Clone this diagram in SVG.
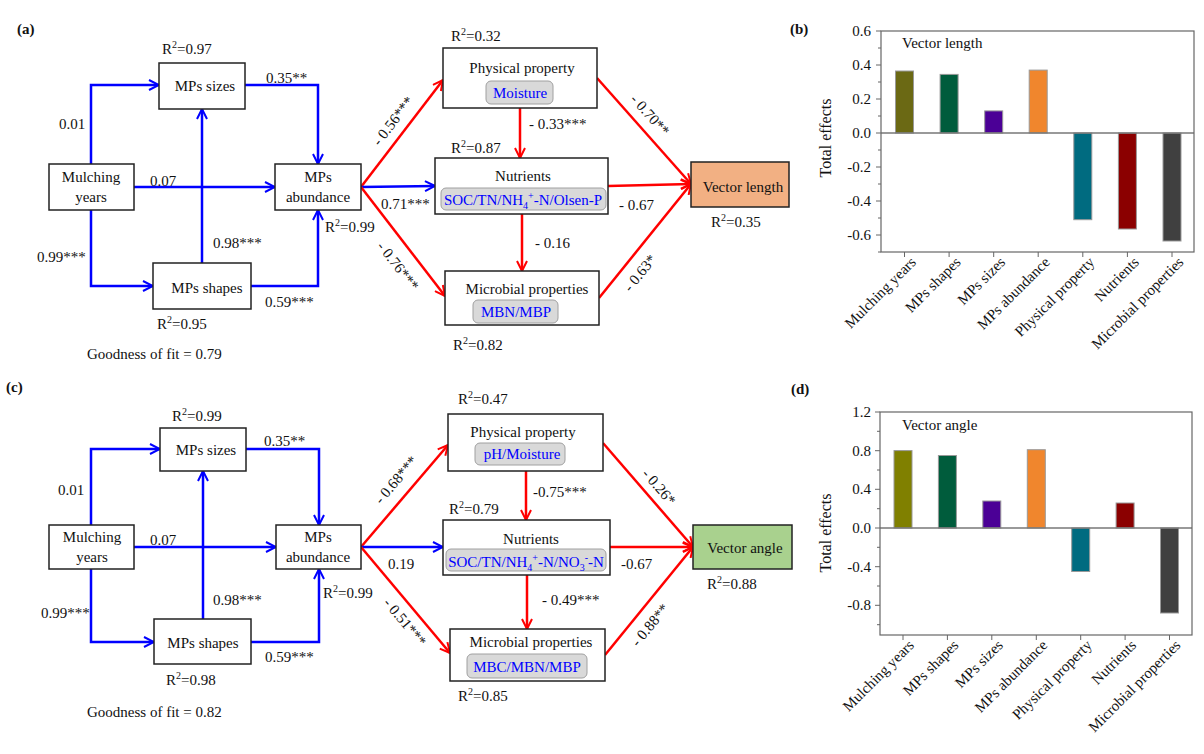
<svg xmlns="http://www.w3.org/2000/svg" width="1204" height="754" viewBox="0 0 1204 754" font-family="Liberation Serif, serif" font-size="15">
<style>
text{font-family:'Liberation Serif',serif;font-size:15px;fill:#111}
.lbl{font-weight:bold}
.box{fill:#fff;stroke:#222;stroke-width:1.5}
.pill{fill:#D9D9D9;stroke:#A0A0A0;stroke-width:1}
.pt{fill:#0000FF;text-anchor:middle}
.c{text-anchor:middle}
.b{fill:none;stroke:#0000FF;stroke-width:2.5}
.r{fill:none;stroke:#FF0000;stroke-width:2.5}
.frame{fill:none;stroke:#666;stroke-width:1.2}
.tick{stroke:#666;stroke-width:1}
.zero{stroke:#777;stroke-width:1.5}
.bar{stroke:#999;stroke-width:1}
.yl{text-anchor:end}
.xl{text-anchor:end}
.ax{font-size:16px;text-anchor:middle}
</style>
<defs>
<marker id="ab" viewBox="0 0 12 12" refX="11" refY="6" markerWidth="12" markerHeight="12" markerUnits="userSpaceOnUse" orient="auto"><path d="M1,1 L11,6 L1,11" fill="none" stroke="#0000FF" stroke-width="2"/></marker>
<marker id="ar" viewBox="0 0 12 12" refX="11" refY="6" markerWidth="12" markerHeight="12" markerUnits="userSpaceOnUse" orient="auto"><path d="M1,1 L11,6 L1,11" fill="none" stroke="#FF0000" stroke-width="2"/></marker>
</defs>
<rect width="1204" height="754" fill="#fff"/>

<!-- Panel labels -->
<text class="lbl" x="17" y="34">(a)</text>
<text class="lbl" x="790" y="34">(b)</text>
<text class="lbl" x="6" y="392">(c)</text>
<text class="lbl" x="791" y="394">(d)</text>

<!-- ===== Panel (a) connectors ===== -->
<g id="connectors-a">
<polyline class="b" points="91,164 91,85 159,85" marker-end="url(#ab)"/>
<line class="b" x1="134" y1="187" x2="275" y2="187" marker-end="url(#ab)"/>
<polyline class="b" points="91,210 91,286 153,286" marker-end="url(#ab)"/>
<line class="b" x1="202" y1="263" x2="202" y2="109" marker-end="url(#ab)"/>
<polyline class="b" points="245,85 318,85 318,164" marker-end="url(#ab)"/>
<polyline class="b" points="251,286 318,286 318,210" marker-end="url(#ab)"/>
<line class="r" x1="361" y1="187" x2="443" y2="80" marker-end="url(#ar)"/>
<line class="b" x1="361" y1="187" x2="435" y2="186" marker-end="url(#ab)"/>
<line class="r" x1="361" y1="187" x2="445" y2="296" marker-end="url(#ar)"/>
<line class="r" x1="520" y1="108" x2="520" y2="158" marker-end="url(#ar)"/>
<line class="r" x1="522" y1="214" x2="522" y2="271" marker-end="url(#ar)"/>
<line class="r" x1="597" y1="78" x2="691" y2="184" marker-end="url(#ar)"/>
<line class="r" x1="608" y1="186" x2="691" y2="184" marker-end="url(#ar)"/>
<line class="r" x1="599" y1="298" x2="691" y2="184" marker-end="url(#ar)"/>
<text x="59" y="129">0.01</text>
<text x="150" y="186">0.07</text>
<text x="37" y="262">0.99***</text>
<text x="213" y="248">0.98***</text>
<text x="266" y="83">0.35**</text>
<text x="265" y="307">0.59***</text>
<text class="c" transform="translate(393,121) rotate(-52.5)" y="5">- 0.56***</text>
<text x="381" y="209">0.71***</text>
<text class="c" transform="translate(398,266) rotate(52)" y="5">- 0.76***</text>
<text x="529" y="129">- 0.33***</text>
<text x="535" y="248">- 0.16</text>
<text class="c" transform="translate(650,115) rotate(48)" y="5">- 0.70**</text>
<text x="619" y="210">- 0.67</text>
<text class="c" transform="translate(640,273) rotate(-51)" y="5">- 0.63*</text>
</g>

<!-- ===== Panel (a) nodes ===== -->
<g id="a-mulching"><rect class="box" x="49" y="164" width="85" height="46"/><text class="c" x="91" y="182">Mulching</text><text class="c" x="91" y="202">years</text></g>
<g id="a-sizes"><rect class="box" x="159" y="63" width="86" height="46"/><text class="c" x="205" y="91">MPs sizes</text><text x="162" y="54">R<tspan dy="-6" font-size="10">2</tspan><tspan dy="6">=0.97</tspan></text></g>
<g id="a-shapes"><rect class="box" x="153" y="263" width="98" height="46"/><text class="c" x="207" y="293">MPs shapes</text><text x="157" y="329">R<tspan dy="-6" font-size="10">2</tspan><tspan dy="6">=0.95</tspan></text></g>
<g id="a-abundance"><rect class="box" x="275" y="164" width="86" height="46"/><text class="c" x="318" y="182">MPs</text><text class="c" x="318" y="202">abundance</text><text x="325" y="232">R<tspan dy="-6" font-size="10">2</tspan><tspan dy="6">=0.99</tspan></text></g>
<g id="a-physical"><rect class="box" x="443" y="48" width="154" height="60"/><text class="c" x="522" y="73">Physical property</text><rect class="pill" x="486" y="81" width="67" height="23" rx="5"/><text class="pt" x="520" y="98">Moisture</text><text x="451" y="41">R<tspan dy="-6" font-size="10">2</tspan><tspan dy="6">=0.32</tspan></text></g>
<g id="a-nutrients"><rect class="box" x="435" y="158" width="173" height="56"/><text class="c" x="523" y="181">Nutrients</text><rect class="pill" x="441" y="188" width="165" height="22" rx="5"/><text class="pt" x="523" y="205">SOC/TN/NH<tspan dy="4" font-size="10">4</tspan><tspan dy="-10" font-size="10">+</tspan><tspan dy="6">-N/Olsen-P</tspan></text><text x="451" y="153">R<tspan dy="-6" font-size="10">2</tspan><tspan dy="6">=0.87</tspan></text></g>
<g id="a-microbial"><rect class="box" x="445" y="271" width="154" height="54"/><text class="c" x="527" y="294">Microbial properties</text><rect class="pill" x="473" y="300" width="85" height="23" rx="5"/><text class="pt" x="516" y="317">MBN/MBP</text><text x="453" y="350">R<tspan dy="-6" font-size="10">2</tspan><tspan dy="6">=0.82</tspan></text></g>
<g id="a-vector"><rect x="691" y="162" width="98" height="45" fill="#F2B083" stroke="#222" stroke-width="1.5"/><text class="c" x="743" y="192">Vector length</text><text x="711" y="227">R<tspan dy="-6" font-size="10">2</tspan><tspan dy="6">=0.35</tspan></text></g>
<text x="87" y="359">Goodness of fit = 0.79</text>

<!-- ===== Panel (c) connectors ===== -->
<g id="connectors-c">
<polyline class="b" points="91,525 91,449 160,449" marker-end="url(#ab)"/>
<line class="b" x1="134" y1="547" x2="276" y2="547" marker-end="url(#ab)"/>
<polyline class="b" points="91,569 91,642 154,642" marker-end="url(#ab)"/>
<line class="b" x1="203" y1="619" x2="203" y2="471" marker-end="url(#ab)"/>
<polyline class="b" points="246,449 319,449 319,525" marker-end="url(#ab)"/>
<polyline class="b" points="251,642 319,642 319,569" marker-end="url(#ab)"/>
<line class="r" x1="361" y1="547" x2="448" y2="445" marker-end="url(#ar)"/>
<line class="b" x1="361" y1="547" x2="443" y2="547" marker-end="url(#ab)"/>
<line class="r" x1="361" y1="547" x2="450" y2="653" marker-end="url(#ar)"/>
<line class="r" x1="526" y1="471" x2="526" y2="520" marker-end="url(#ar)"/>
<line class="r" x1="527" y1="575" x2="527" y2="629" marker-end="url(#ar)"/>
<line class="r" x1="603" y1="443" x2="693" y2="547" marker-end="url(#ar)"/>
<line class="r" x1="610" y1="547" x2="693" y2="547" marker-end="url(#ar)"/>
<line class="r" x1="605" y1="655" x2="693" y2="547" marker-end="url(#ar)"/>
<text x="58" y="495">0.01</text>
<text x="150" y="545">0.07</text>
<text x="41" y="618">0.99***</text>
<text x="213" y="605">0.98***</text>
<text x="264" y="446">0.35**</text>
<text x="265" y="662">0.59***</text>
<text class="c" transform="translate(396,480) rotate(-49.5)" y="5">- 0.68***</text>
<text x="388" y="569">0.19</text>
<text class="c" transform="translate(405,622) rotate(50)" y="5">- 0.51***</text>
<text x="533" y="497">-0.75***</text>
<text x="542" y="605">- 0.49***</text>
<text class="c" transform="translate(659,487) rotate(49)" y="5">- 0.26*</text>
<text x="621" y="569">-0.67</text>
<text class="c" transform="translate(650,625) rotate(-50.5)" y="5">- 0.88**</text>
</g>

<!-- ===== Panel (c) nodes ===== -->
<g id="c-mulching"><rect class="box" x="49" y="525" width="85" height="44"/><text class="c" x="92" y="542">Mulching</text><text class="c" x="92" y="562">years</text></g>
<g id="c-sizes"><rect class="box" x="160" y="428" width="86" height="43"/><text class="c" x="206" y="455">MPs sizes</text><text x="172" y="421">R<tspan dy="-6" font-size="10">2</tspan><tspan dy="6">=0.99</tspan></text></g>
<g id="c-shapes"><rect class="box" x="154" y="619" width="97" height="45"/><text class="c" x="203" y="648">MPs shapes</text><text x="166" y="685">R<tspan dy="-6" font-size="10">2</tspan><tspan dy="6">=0.98</tspan></text></g>
<g id="c-abundance"><rect class="box" x="276" y="525" width="85" height="44"/><text class="c" x="318" y="542">MPs</text><text class="c" x="318" y="562">abundance</text><text x="323" y="598">R<tspan dy="-6" font-size="10">2</tspan><tspan dy="6">=0.99</tspan></text></g>
<g id="c-physical"><rect class="box" x="448" y="414" width="155" height="57"/><text class="c" x="523" y="437">Physical property</text><rect class="pill" x="475" y="443" width="90" height="22" rx="5"/><text class="pt" x="522" y="459">pH/Moisture</text><text x="458" y="404">R<tspan dy="-6" font-size="10">2</tspan><tspan dy="6">=0.47</tspan></text></g>
<g id="c-nutrients"><rect class="box" x="443" y="520" width="167" height="55"/><text class="c" x="531" y="544">Nutrients</text><rect class="pill" x="446" y="549" width="160" height="22" rx="5"/><text class="pt" x="526" y="567">SOC/TN/NH<tspan dy="4" font-size="10">4</tspan><tspan dy="-10" font-size="10">+</tspan><tspan dy="6">-N/NO</tspan><tspan dy="4" font-size="10">3</tspan><tspan dy="-10" font-size="10">-</tspan><tspan dy="6">-N</tspan></text><text x="449" y="514">R<tspan dy="-6" font-size="10">2</tspan><tspan dy="6">=0.79</tspan></text></g>
<g id="c-microbial"><rect class="box" x="450" y="629" width="155" height="52"/><text class="c" x="531" y="647">Microbial properties</text><rect class="pill" x="467" y="654" width="120" height="24" rx="5"/><text class="pt" x="527" y="672">MBC/MBN/MBP</text><text x="458" y="701">R<tspan dy="-6" font-size="10">2</tspan><tspan dy="6">=0.85</tspan></text></g>
<g id="c-vector"><rect x="693" y="525" width="99" height="44" fill="#A9D18E" stroke="#222" stroke-width="1.5"/><text class="c" x="745" y="553">Vector angle</text><text x="707" y="589">R<tspan dy="-6" font-size="10">2</tspan><tspan dy="6">=0.88</tspan></text></g>
<text x="87" y="717">Goodness of fit = 0.82</text>

<!-- ===== Panel (b) chart ===== -->
<g id="chart-b">
<rect class="bar" x="895.5" y="71" width="18" height="62" fill="#6B6914"/>
<rect class="bar" x="940.1" y="74.4" width="18" height="58.6" fill="#005C3C"/>
<rect class="bar" x="984.7" y="110.9" width="18" height="22.1" fill="#4B0096"/>
<rect class="bar" x="1029.2" y="70.1" width="18" height="62.9" fill="#F0862D"/>
<rect class="bar" x="1073.8" y="133" width="18" height="86.7" fill="#006B80"/>
<rect class="bar" x="1118.4" y="133" width="18" height="96" fill="#8B0000"/>
<rect class="bar" x="1163" y="133" width="18" height="108" fill="#404040"/>
<line class="zero" x1="881" y1="133" x2="1194" y2="133"/>
<rect class="frame" x="881" y="31" width="313" height="221"/>
<path class="tick" d="M876,31H881M876,65H881M876,99H881M876,133H881M876,167H881M876,201H881M876,235H881M878,48H881M878,82H881M878,116H881M878,150H881M878,184H881M878,218H881M878,252H881"/>
<path class="tick" d="M904.5,252V257M949.1,252V257M993.7,252V257M1038.2,252V257M1082.8,252V257M1127.4,252V257M1172,252V257"/>
<text class="yl" x="871" y="36">0.6</text>
<text class="yl" x="871" y="70">0.4</text>
<text class="yl" x="871" y="104">0.2</text>
<text class="yl" x="871" y="138">0.0</text>
<text class="yl" x="871" y="172">-0.2</text>
<text class="yl" x="871" y="206">-0.4</text>
<text class="yl" x="871" y="240">-0.6</text>
<text class="ax" transform="translate(831,138) rotate(-90)">Total effects</text>
<text x="902" y="48">Vector length</text>
<text class="xl" transform="translate(917,263) rotate(-45)">Mulching years</text>
<text class="xl" transform="translate(961.6,263) rotate(-45)">MPs shapes</text>
<text class="xl" transform="translate(1006.2,263) rotate(-45)">MPs sizes</text>
<text class="xl" transform="translate(1050.7,263) rotate(-45)">MPs abundance</text>
<text class="xl" transform="translate(1095.3,263) rotate(-45)">Physical property</text>
<text class="xl" transform="translate(1139.9,263) rotate(-45)">Nutrients</text>
<text class="xl" transform="translate(1184.5,263) rotate(-45)">Microbial properties</text>
</g>

<!-- ===== Panel (d) chart ===== -->
<g id="chart-d">
<rect class="bar" x="894" y="450.6" width="18" height="77.4" fill="#808000"/>
<rect class="bar" x="938.4" y="455.5" width="18" height="72.5" fill="#005C3C"/>
<rect class="bar" x="982.8" y="501" width="18" height="27" fill="#4B0096"/>
<rect class="bar" x="1027.3" y="449.7" width="18" height="78.3" fill="#F0862D"/>
<rect class="bar" x="1071.7" y="528" width="18" height="43.5" fill="#006B80"/>
<rect class="bar" x="1116.1" y="503" width="18" height="25" fill="#8B0000"/>
<rect class="bar" x="1160.5" y="528" width="18" height="85" fill="#404040"/>
<line class="zero" x1="880" y1="528" x2="1192" y2="528"/>
<rect class="frame" x="880" y="412" width="312" height="223"/>
<path class="tick" d="M875,412H880M875,450.7H880M875,489.3H880M875,528H880M875,566.7H880M875,605.3H880M877,431.3H880M877,470H880M877,508.7H880M877,547.3H880M877,586H880M877,624.7H880"/>
<path class="tick" d="M903,635V640M947.4,635V640M991.8,635V640M1036.3,635V640M1080.7,635V640M1125.1,635V640M1169.5,635V640"/>
<text class="yl" x="871" y="417">1.2</text>
<text class="yl" x="871" y="456">0.8</text>
<text class="yl" x="871" y="494">0.4</text>
<text class="yl" x="871" y="533">0.0</text>
<text class="yl" x="871" y="572">-0.4</text>
<text class="yl" x="871" y="610">-0.8</text>
<text class="ax" transform="translate(831,533) rotate(-90)">Total effects</text>
<text x="902" y="430">Vector angle</text>
<text class="xl" transform="translate(915,646) rotate(-45)">Mulching years</text>
<text class="xl" transform="translate(959.4,646) rotate(-45)">MPs shapes</text>
<text class="xl" transform="translate(1003.8,646) rotate(-45)">MPs sizes</text>
<text class="xl" transform="translate(1048.3,646) rotate(-45)">MPs abundance</text>
<text class="xl" transform="translate(1092.7,646) rotate(-45)">Physical property</text>
<text class="xl" transform="translate(1137.1,646) rotate(-45)">Nutrients</text>
<text class="xl" transform="translate(1181.5,646) rotate(-45)">Microbial properties</text>
</g>
</svg>
